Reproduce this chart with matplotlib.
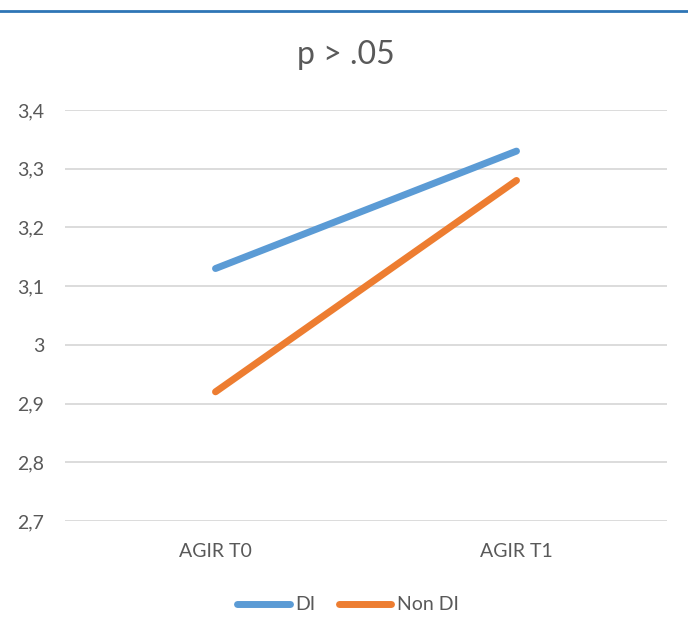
import matplotlib.pyplot as plt
from matplotlib.lines import Line2D

categories = ['AGIR T0', 'AGIR T1']
di_vals = [3.13, 3.33]
non_di_vals = [2.92, 3.28]
series_names = ['DI', 'Non DI']
y_ticks = [2.7, 2.8, 2.9, 3.0, 3.1, 3.2, 3.3, 3.4]
y_labels = ['2,7', '2,8', '2,9', '3', '3,1', '3,2', '3,3', '3,4']

text_col = '#595959'
blue = '#5B9BD5'
orange = '#ED7D31'

plt.rcParams['font.family'] = ['Lato', 'DejaVu Sans']

fig = plt.figure(figsize=(6.88, 6.37), dpi=100)
ax = fig.add_axes([65 / 688, 1 - 521 / 637, (667 - 65) / 688, (521 - 110) / 637])

x = list(range(len(categories)))
ax.plot(x, di_vals, color=blue, lw=5, solid_capstyle='round', zorder=3)
ax.plot(x, non_di_vals, color=orange, lw=5, solid_capstyle='round', zorder=3)

ax.set_xlim(-0.5, 1.5)
ax.set_ylim(2.7, 3.4)
ax.set_xticks(x)
ax.set_xticklabels(categories)
ax.set_yticks(y_ticks)
ax.set_yticklabels(y_labels)
ax.grid(axis='y', color='#D9D9D9', lw=1.3)
ax.set_axisbelow(True)
for s in ax.spines.values():
    s.set_visible(False)
ax.tick_params(length=0, colors=text_col, labelsize=14)
ax.tick_params(axis='x', pad=16)
ax.tick_params(axis='y', pad=15)

fig.text(346 / 688, 1 - 55 / 637, 'p > .05', ha='center', va='center',
         fontsize=23, color=text_col)

# top border line
fig.add_artist(Line2D([0, 1], [1 - 11 / 637, 1 - 11 / 637], color='#2E75B6', lw=2))

handles = [Line2D([], [], color=blue, lw=5, solid_capstyle='round'),
           Line2D([], [], color=orange, lw=5, solid_capstyle='round')]
leg = fig.legend(handles, series_names, loc='center', bbox_to_anchor=(348 / 688, 1 - 605 / 637),
                 ncol=2, frameon=False, fontsize=14, handlelength=2.7,
                 handletextpad=0.3, columnspacing=1.2)
for t in leg.get_texts():
    t.set_color(text_col)

fig.savefig('out.png', dpi=100)
